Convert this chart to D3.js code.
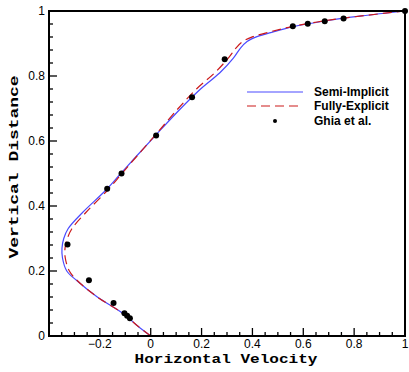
<!DOCTYPE html>
<html><head><meta charset="utf-8">
<script src="https://cdn.jsdelivr.net/npm/d3@7"></script>
<style>
  body { margin: 0; background: #fff; }
  .tick-label { font-family: "Liberation Sans", Arial, sans-serif; font-size: 12px; fill: #000; }
  .axis-title { font-family: "Liberation Mono", "Courier New", monospace; font-size: 12px; font-weight: bold; fill: #000; }
  .legend text { font-family: "Liberation Sans", Arial, sans-serif; font-size: 12px; font-weight: bold; fill: #000; }
</style>
</head>
<body>
<svg width="409" height="372"></svg>
<script>
// vertical distance (shared by both computed profiles)
var profileY = [0, 0.03, 0.07, 0.12, 0.17, 0.2, 0.24, 0.27, 0.3, 0.33, 0.38, 0.45, 0.5, 0.55, 0.62, 0.7, 0.76, 0.81, 0.855, 0.886, 0.906, 0.921, 0.936, 0.952, 0.97, 0.985, 1];
// horizontal velocity, semi-implicit
var semiImplicitU = [0, -0.05, -0.11, -0.21, -0.29, -0.33, -0.347, -0.349, -0.342, -0.325, -0.268, -0.175, -0.118, -0.06, 0.022, 0.118, 0.196, 0.272, 0.325, 0.353, 0.379, 0.418, 0.482, 0.561, 0.69, 0.83, 1];
// horizontal velocity, fully-explicit
var fullyExplicitU = [0, -0.05, -0.11, -0.21, -0.288, -0.32, -0.336, -0.337, -0.328, -0.31, -0.255, -0.168, -0.113, -0.058, 0.02, 0.108, 0.18, 0.252, 0.305, 0.335, 0.362, 0.402, 0.47, 0.555, 0.685, 0.83, 1];
// Ghia et al. reference points
var ghiaY = [1.0, 0.9766, 0.9688, 0.9609, 0.9531, 0.8516, 0.7344, 0.6172, 0.5, 0.4531, 0.2813, 0.1719, 0.1016, 0.0703, 0.0625, 0.0547];
var ghiaU = [1.0, 0.75837, 0.68439, 0.61756, 0.55892, 0.29093, 0.16256, 0.02135, -0.11477, -0.17119, -0.32726, -0.24299, -0.14612, -0.10338, -0.09266, -0.08186];

var xTickLabels = [-0.2, 0, 0.2, 0.4, 0.6, 0.8, 1];
var yTickLabels = [0, 0.2, 0.4, 0.6, 0.8, 1];

var plotLeft = 49, plotRight = 405, plotTop = 11, plotBottom = 336;
var x = d3.scaleLinear().domain([-0.4, 1]).range([plotLeft, plotRight]);
var y = d3.scaleLinear().domain([0, 1]).range([plotBottom, plotTop]);

var svg = d3.select("svg");
var fmt = function(d){ return d === 0 ? "0" : d === 1 ? "1" : d3.format(".1f")(d); };

// curves
var line = d3.line()
  .x(function(d){ return x(d[0]); })
  .y(function(d){ return y(d[1]); })
  .curve(d3.curveCatmullRom);

svg.append("path")
  .datum(profileY.map(function(v,i){ return [semiImplicitU[i], v]; }))
  .attr("d", line)
  .attr("fill", "none").attr("stroke", "#4a4aff").attr("stroke-width", 1.2);

svg.append("path")
  .datum(profileY.map(function(v,i){ return [fullyExplicitU[i], v]; }))
  .attr("d", line)
  .attr("fill", "none").attr("stroke", "#cc1a1a").attr("stroke-width", 1.2)
  .attr("stroke-dasharray", "9,5");

svg.selectAll(".ghia")
  .data(ghiaY.map(function(v,i){ return [ghiaU[i], v]; }))
  .enter().append("circle")
  .attr("class", "ghia")
  .attr("cx", function(d){ return x(d[0]); })
  .attr("cy", function(d){ return y(d[1]); })
  .attr("r", 3)
  .attr("fill", "#000");

// ticks (inward)
var xTicks = d3.range(-0.4, 1.0001, 0.05).map(function(v){ return +v.toFixed(2); });
var yTicks = d3.range(0, 1.0001, 0.04).map(function(v){ return +v.toFixed(2); });
function isMajor(v){ return Math.abs(v*5 - Math.round(v*5)) < 1e-6; }

svg.selectAll(".xtick").data(xTicks).enter().append("line")
  .attr("x1", function(d){ return x(d); }).attr("x2", function(d){ return x(d); })
  .attr("y1", plotBottom).attr("y2", function(d){ return plotBottom - (isMajor(d) ? 8 : 4); })
  .attr("stroke", "#000").attr("stroke-width", 1.3);

svg.selectAll(".ytick").data(yTicks).enter().append("line")
  .attr("y1", function(d){ return y(d); }).attr("y2", function(d){ return y(d); })
  .attr("x1", plotLeft).attr("x2", function(d){ return plotLeft + (isMajor(d) ? 8 : 4); })
  .attr("stroke", "#000").attr("stroke-width", 1.3);

// frame
svg.append("rect")
  .attr("x", plotLeft).attr("y", plotTop)
  .attr("width", plotRight - plotLeft).attr("height", plotBottom - plotTop)
  .attr("fill", "none").attr("stroke", "#000").attr("stroke-width", 2);

// tick labels
svg.selectAll(".xlab").data(xTickLabels).enter().append("text")
  .attr("class", "tick-label")
  .attr("x", function(d){ return x(d); }).attr("y", plotBottom + 12)
  .attr("text-anchor", "middle")
  .text(fmt);

svg.selectAll(".ylab").data(yTickLabels).enter().append("text")
  .attr("class", "tick-label")
  .attr("x", plotLeft - 4).attr("y", function(d){ return y(d) + 4; })
  .attr("text-anchor", "end")
  .text(fmt);

// axis titles
svg.append("text").attr("class", "axis-title")
  .attr("x", 226).attr("y", 363)
  .attr("text-anchor", "middle")
  .attr("textLength", 183).attr("lengthAdjust", "spacingAndGlyphs")
  .text("Horizontal Velocity");

svg.append("text").attr("class", "axis-title")
  .attr("transform", "translate(18,167) rotate(-90)")
  .attr("text-anchor", "middle")
  .attr("textLength", 183).attr("lengthAdjust", "spacingAndGlyphs")
  .text("Vertical Distance");

// legend
var legend = svg.append("g").attr("class", "legend");
legend.append("line").attr("x1", 247).attr("x2", 303).attr("y1", 92).attr("y2", 92)
  .attr("stroke", "#4a4aff").attr("stroke-width", 1.2);
legend.append("line").attr("x1", 247).attr("x2", 303).attr("y1", 106).attr("y2", 106)
  .attr("stroke", "#cc1a1a").attr("stroke-width", 1.2).attr("stroke-dasharray", "9,5");
legend.append("circle").attr("cx", 275).attr("cy", 121).attr("r", 2).attr("fill", "#000");
legend.append("text").attr("x", 314).attr("y", 96).text("Semi-Implicit");
legend.append("text").attr("x", 314).attr("y", 110).text("Fully-Explicit");
legend.append("text").attr("x", 314).attr("y", 125).text("Ghia et al.");
</script>
</body></html>
